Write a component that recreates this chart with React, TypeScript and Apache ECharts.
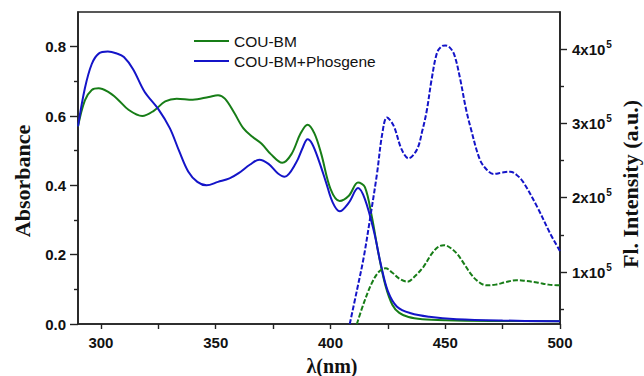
import React, { useEffect, useRef } from "react";
import * as echarts from "echarts";

// Absorbance, COU-BM (green, solid) [λ nm, A]
const absBM: [number, number][] = [
  [290, 0.57], [293, 0.645], [296, 0.675], [299, 0.68], [303, 0.67], [307, 0.65],
  [312, 0.618], [318, 0.6], [323, 0.615], [328, 0.642], [333, 0.65], [340, 0.647],
  [347, 0.655], [351, 0.66], [354, 0.65], [358, 0.61], [362, 0.565], [366, 0.54],
  [370, 0.52], [374, 0.49], [379, 0.465], [383, 0.49], [387, 0.55], [390, 0.575],
  [393, 0.55], [396, 0.49], [400, 0.39], [404, 0.355], [408, 0.37], [412, 0.408],
  [415, 0.395], [418, 0.31], [421, 0.2], [424, 0.11], [427, 0.055], [430, 0.032],
  [434, 0.02], [440, 0.014], [450, 0.011], [470, 0.009], [500, 0.008],
];

// Absorbance, COU-BM+Phosgene (blue, solid)
const absBMP: [number, number][] = [
  [290, 0.57], [293, 0.68], [296, 0.75], [299, 0.78], [303, 0.786], [307, 0.78],
  [310, 0.77], [314, 0.735], [319, 0.67], [325, 0.62], [330, 0.565], [334, 0.5],
  [338, 0.44], [342, 0.41], [346, 0.4], [351, 0.41], [356, 0.42], [360, 0.435],
  [365, 0.46], [369, 0.474], [373, 0.462], [377, 0.435], [380, 0.425], [385, 0.465],
  [388, 0.51], [390, 0.533], [392, 0.52], [395, 0.47], [398, 0.41], [401, 0.35],
  [404, 0.325], [408, 0.35], [412, 0.392], [415, 0.36], [419, 0.265], [422, 0.17],
  [425, 0.095], [429, 0.05], [435, 0.031], [443, 0.021], [455, 0.014], [475, 0.01],
  [500, 0.008],
];

// Fluorescence, COU-BM (green, dashed)
const flBM: [number, number][] = [
  [411.5, 30000], [414.5, 58000], [418, 85000], [421, 100000], [424, 105000],
  [427, 99000], [430, 91000], [433.5, 87000], [437, 95000], [440.5, 107000],
  [444, 124000], [447, 134000], [449.5, 136000], [452, 133000], [455, 125000],
  [458, 112000], [461, 98000], [464, 88000], [468, 82000], [472, 83000],
  [476, 86000], [481, 89000], [485, 88000], [490, 86000], [495, 83000], [500, 82000],
];

// Fluorescence, COU-BM+Phosgene (blue, dashed)
const flBMP: [number, number][] = [
  [408.4, 30000], [411.5, 75000], [414.5, 120000], [417.4, 175000], [420.3, 233000],
  [422.5, 285000], [424.6, 308000], [427.5, 297000], [431, 265000], [434, 253000],
  [437.7, 265000], [440, 290000], [442, 318000], [444, 358000], [446.4, 395000],
  [448.5, 404000], [450, 405000], [452, 402000], [454, 392000], [456.5, 360000],
  [459, 320000], [461, 295000], [465, 252000], [468, 238000], [471, 232000],
  [475, 234000], [478.3, 235000], [481, 231000], [484, 221000], [490, 188000],
  [495.7, 152000], [500, 128000],
];

const xLabelValues = [300, 350, 400, 450, 500];
const xTickValues = [300, 325, 350, 375, 400, 425, 450, 475, 500];
const absLabelValues = [0, 0.2, 0.4, 0.6, 0.8];
const absMinorTicks = [0.1, 0.3, 0.5, 0.7];
const flLabelValues = [100000, 200000, 300000, 400000];
const flMinorTicks = [50000, 150000, 250000, 350000];

const seriesNames = ["COU-BM", "COU-BM+Phosgene"];
const titles = { x: "λ(nm)", left: "Absorbance", right: "Fl. Intensity (a.u.)" };

const GREEN = "#177d17";
const BLUE = "#1414c8";
const AXIS = "#222222";
const SANS = "Liberation Sans";
const SERIF = "Liberation Serif";

export default function App() {
  const ref = useRef<HTMLDivElement>(null);
  useEffect(() => {
    if (!ref.current) return;
    const chart = echarts.init(ref.current, undefined, { renderer: "svg" });
    const axisLine = { show: true, lineStyle: { color: AXIS, width: 1.6 } };
    const labelStyle = { fontFamily: SANS, fontWeight: "bold" as const, fontSize: 15, color: "#111" };
    chart.setOption({
      animation: false,
      backgroundColor: "#fff",
      grid: {
        left: 78, right: 84, top: 12, bottom: 52,
        show: true, borderColor: AXIS, borderWidth: 1.6,
      },
      legend: {
        data: seriesNames,
        orient: "vertical",
        left: 189, top: 28,
        icon: "rect",
        itemWidth: 35, itemHeight: 2, itemGap: 4,
        textStyle: { fontFamily: SANS, fontSize: 15.5, color: "#111", lineHeight: 16 },
      },
      xAxis: {
        type: "value", min: 290, max: 500,
        axisLine,
        axisTick: { customValues: xTickValues, length: 5, lineStyle: { color: AXIS, width: 1.4 } },
        axisLabel: { customValues: xLabelValues, margin: 11, ...labelStyle },
        splitLine: { show: false },
      },
      yAxis: [
        {
          type: "value", min: 0, max: 0.9, position: "left",
          axisLine,
          axisTick: { customValues: absLabelValues, length: 8, lineStyle: { color: AXIS, width: 1.4 } },
          axisLabel: {
            customValues: absLabelValues, margin: 12, ...labelStyle,
            formatter: (v: number) => v.toFixed(1),
          },
          splitLine: { show: false },
        },
        {
          type: "value", min: 30000, max: 450000, position: "right",
          axisLine,
          axisTick: { customValues: flLabelValues, length: 7, lineStyle: { color: AXIS, width: 1.4 } },
          axisLabel: {
            customValues: flLabelValues, margin: 12,
            formatter: (v: number) => `{m|${Math.round(v / 100000)}x10}{e|5}`,
            rich: {
              m: { ...labelStyle, lineHeight: 20 },
              e: { fontFamily: SANS, fontWeight: "bold", fontSize: 10, color: "#111", verticalAlign: "top", lineHeight: 10, padding: [0, 0, 0, 1] },
            },
          },
          splitLine: { show: false },
        },
        {
          type: "value", min: 0, max: 0.9, position: "left",
          axisLine: { show: false },
          axisTick: { customValues: absMinorTicks, length: 4, lineStyle: { color: AXIS, width: 1.4 } },
          axisLabel: { show: false },
          splitLine: { show: false },
        },
        {
          type: "value", min: 30000, max: 450000, position: "right",
          axisLine: { show: false },
          axisTick: { customValues: flMinorTicks, length: 4, lineStyle: { color: AXIS, width: 1.4 } },
          axisLabel: { show: false },
          splitLine: { show: false },
        },
      ],
      series: [
        {
          name: seriesNames[0], type: "line", data: absBM, yAxisIndex: 0,
          symbol: "none", smooth: 0.35, color: GREEN,
          lineStyle: { color: GREEN, width: 2 },
        },
        {
          name: seriesNames[1], type: "line", data: absBMP, yAxisIndex: 0,
          symbol: "none", smooth: 0.35, color: BLUE,
          lineStyle: { color: BLUE, width: 2 },
        },
        {
          name: seriesNames[0] + " Fl", type: "line", data: flBM, yAxisIndex: 1,
          symbol: "none", smooth: 0.35, color: GREEN,
          lineStyle: { color: GREEN, width: 2, type: [5, 2] },
        },
        {
          name: seriesNames[1] + " Fl", type: "line", data: flBMP, yAxisIndex: 1,
          symbol: "none", smooth: 0.35, color: BLUE,
          lineStyle: { color: BLUE, width: 2, type: [5, 2] },
        },
      ],
      graphic: [
        {
          type: "text", x: 332, y: 366,
          style: { text: titles.x, fontFamily: SERIF, fontWeight: "bold", fontSize: 20, fill: "#111", align: "center", verticalAlign: "middle" },
        },
        {
          type: "text", x: 22, y: 181, rotation: Math.PI / 2,
          style: { text: titles.left, fontFamily: SERIF, fontWeight: "bold", fontSize: 22, fill: "#111", align: "center", verticalAlign: "middle" },
        },
        {
          type: "text", x: 630, y: 184, rotation: Math.PI / 2,
          style: { text: titles.right, fontFamily: SERIF, fontWeight: "bold", fontSize: 22, fill: "#111", align: "center", verticalAlign: "middle" },
        },
      ],
    });
    return () => chart.dispose();
  }, []);
  return <div ref={ref} style={{ width: 644, height: 376, position: "absolute", left: 0, top: 0 }} />;
}
